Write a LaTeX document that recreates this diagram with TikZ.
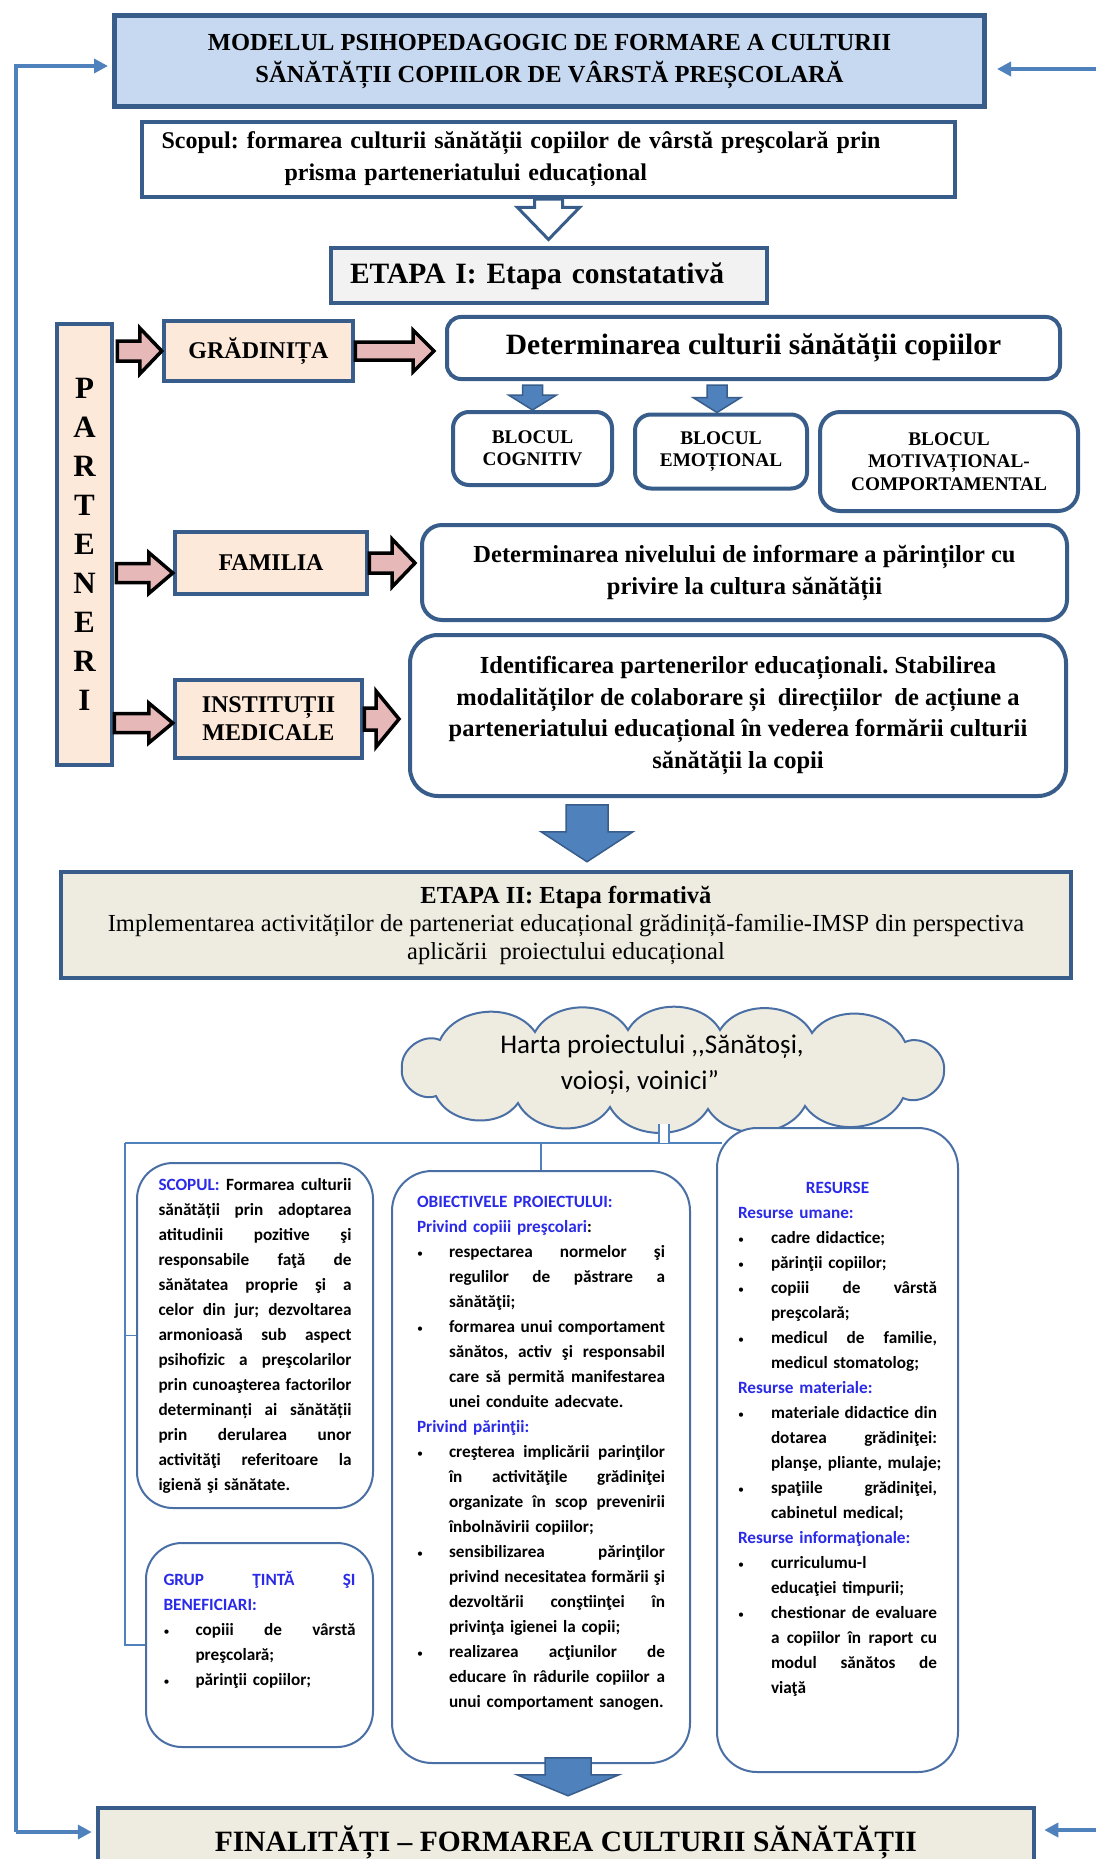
\documentclass[tikz,border=0pt]{standalone}
\usepackage{fontspec}
\setmainfont{Liberation Serif}
\newfontfamily\calfont{Carlito}
\usepackage{xcolor}
\usepackage{tikz}
\usetikzlibrary{arrows.meta,calc}
\definecolor{navyD}{HTML}{385D8A}
\definecolor{titleB}{HTML}{C6D9F1}
\definecolor{grayL}{HTML}{F2F2F2}
\definecolor{peachL}{HTML}{FDE9D9}
\definecolor{pinkA}{HTML}{E6B9B8}
\definecolor{beigeL}{HTML}{EEECE1}
\definecolor{medB}{HTML}{4F81BD}
\definecolor{steelB}{HTML}{4A6FA5}
\definecolor{hdblue}{HTML}{2A2AE8}
\frenchspacing
\newcommand{\fs}[2]{\fontsize{#1}{#2}\selectfont}
\newcommand{\hd}[1]{\textcolor{hdblue}{#1}}
\newlength{\bulind}
\newlength{\colw}
\newcommand{\stretchsp}{\spaceskip=0.23em plus 1em minus 0.06em\relax}
\newcommand{\bul}{\makebox[\bulind][l]{\fs{12}{12}\mdseries•}}
\newcommand{\jline}[1]{\leavevmode\hbox to \colw{\stretchsp #1}\\}
\newcommand{\bjline}[1]{\leavevmode\bul\hbox to \dimexpr\colw-\bulind\relax{\stretchsp #1}\\}
\newcommand{\bline}[1]{\leavevmode\bul\mbox{#1}\\}
\newcommand{\ijline}[1]{\leavevmode\hspace*{\bulind}\hbox to \dimexpr\colw-\bulind\relax{\stretchsp #1}\\}
\newcommand{\iline}[1]{\leavevmode\hspace*{\bulind}\mbox{#1}\\}
% block arrows: style, from, to, stem half, head half, head length
\newcommand{\harr}[6]{\path[#1] let \p1=(#2), \p2=(#3) in
  (\x1,{\y1+#4}) -- ({\x2-#6},{\y1+#4}) -- ({\x2-#6},{\y1+#5}) -- (\x2,\y1)
  -- ({\x2-#6},{\y1-#5}) -- ({\x2-#6},{\y1-#4}) -- (\x1,{\y1-#4}) -- cycle;}
\newcommand{\varr}[6]{\path[#1] let \p1=(#2), \p2=(#3) in
  ({\x1-#4},\y1) -- ({\x1-#4},{\y2+#6}) -- ({\x1-#5},{\y2+#6}) -- (\x1,\y2)
  -- ({\x1+#5},{\y2+#6}) -- ({\x1+#4},{\y2+#6}) -- ({\x1+#4},\y1) -- cycle;}

\begin{document}
\begin{tikzpicture}[x=1pt,y=-1pt,>={Triangle[length=14pt,width=14pt]},
  hdrbox/.style={draw=navyD,line width=4.5pt,inner sep=0pt,font=\bfseries},
  partbox/.style={hdrbox,fill=peachL,align=center,font=\bfseries\fs{24}{28}},
  rbox/.style={draw=navyD,line width=4pt,rounded corners=14pt,fill=white,inner sep=0pt,align=center},
  lowbox/.style={draw=steelB,line width=2pt,rounded corners=36pt,fill=white,inner sep=0pt},
  bodytxt/.style={font=\calfont\bfseries\fs{17.2}{25},align=left,inner sep=0pt,anchor=north},
  blocktxt/.style={font=\bfseries\fs{19.3}{22.5}},
  pinkarrow/.style={draw=black,line width=3.5pt,fill=pinkA},
  bluearrow/.style={draw=navyD,line width=1.5pt,fill=medB},
  hollowarrow/.style={draw=navyD,line width=3pt,fill=white},
  conn/.style={draw=medB,line width=1.8pt},
  fbline/.style={draw=medB,line width=4pt,->}]
\useasboundingbox (0,0) rectangle (1096,1859);

% stage I
\node[hdrbox,fill=titleB,line width=5pt,minimum width=870pt,minimum height=91pt,align=center,font=\bfseries\fs{24.5}{32}] (title) at (549.5,61.5)
  {MODELUL PSIHOPEDAGOGIC DE FORMARE A CULTURII\\SĂNĂTĂȚII COPIILOR DE VÂRSTĂ PREȘCOLARĂ};
\node[hdrbox,fill=white,minimum width=813pt,minimum height=75pt,text width=774pt,align=left,font=\bfseries\fs{24}{32}] (scopul) at (548.5,159.5)
  {Scopul: formarea culturii sănătății copiilor de vârstă preşcolară prin\\\hspace*{123pt}prisma parteneriatului educațional};
\node[hdrbox,fill=grayL,line width=4pt,minimum width=436pt,minimum height=55pt,text width=398pt,align=left,font=\bfseries\fs{29.5}{34}] (etapa1) at (549,276)
  {ETAPA I: Etapa constatativă};

\node[partbox,minimum width=55pt,minimum height=441pt,font=\bfseries\fs{31}{39}] (parteneri) at (84.5,544.5) {P\\A\\R\\T\\E\\N\\E\\R\\I};
\node[partbox,minimum width=189pt,minimum height=60pt] (gradinita) at (258.5,351) {GRĂDINIȚA};
\node[partbox,minimum width=192pt,minimum height=62pt] (familia) at (271,563) {FAMILIA};
\node[partbox,minimum width=187pt,minimum height=78pt] (institutii) at (268.5,719) {INSTITUȚII\\MEDICALE};

\node[rbox,minimum width=613pt,minimum height=62pt,font=\bfseries\fs{29.5}{34}] (determ1) at (753.5,348) {Determinarea culturii sănătății copiilor};
\node[rbox,blocktxt,rounded corners=16pt,minimum width=159pt,minimum height=73pt] (cognitiv) at (532.5,448.5) {BLOCUL\\COGNITIV};
\node[rbox,blocktxt,rounded corners=16pt,minimum width=172pt,minimum height=74pt] (emotional) at (721,451.5) {BLOCUL\\EMOȚIONAL};
\node[rbox,blocktxt,rounded corners=20pt,minimum width=258pt,minimum height=99pt] (motivational) at (949,461.5) {BLOCUL\\MOTIVAȚIONAL-\\COMPORTAMENTAL};
\node[rbox,rounded corners=20pt,minimum width=645pt,minimum height=95pt,font=\bfseries\fs{24.5}{32}] (determ2) at (744.5,572.5)
  {Determinarea nivelului de informare a părinților cu\\privire la cultura sănătății};
\node[rbox,rounded corners=28pt,minimum width=656pt,minimum height=161pt,font=\bfseries\fs{24.5}{31.7}] (identif) at (738,715.5)
  {Identificarea partenerilor educaționali. Stabilirea\\modalităților de colaborare și~ direcțiilor~ de acțiune a\\parteneriatului educațional în vederea formării culturii\\sănătății la copii};

% stage II
\node[hdrbox,fill=beigeL,minimum width=1010pt,minimum height=106pt,align=center,font=\fs{24.5}{28}] (etapa2) at (566,925)
  {\textbf{ETAPA II: Etapa formativă}\\Implementarea activităților de parteneriat educațional grădiniță-familie-IMSP din perspectiva\\aplicării~ proiectului educațional};

% project map cloud
\filldraw[draw=steelB,line width=2pt,fill=beigeL,bend left=60]
  (402,1068) to (440,1040) to (535,1032) to (628,1030) to (720,1030) to (812,1033)
  to (905,1042) to (944,1070) to (903,1098) to (805,1106) to (708,1109)
  to (610,1107) to (518,1103) to (436,1096) to (402,1068);
\coordinate (cloudBot) at (664,1124);
\node[align=center,inner sep=0pt,font=\calfont\fs{27}{36}] (cloudText) at (652,1065)
  {Harta proiectului ,,Sănătoși,\\voioși, voinici”\hspace*{24pt}};

\node[lowbox,minimum width=236pt,minimum height=345pt,text width=193pt,align=left,font=\calfont\bfseries\fs{17.2}{25}] (scopbox) at (255,1335.5) {\setlength{\colw}{193pt}%
\jline{\strut\hd{SCOPUL:} Formarea culturii}
\jline{sănătății prin adoptarea}
\jline{atitudinii pozitive şi}
\jline{responsabile faţă de}
\jline{sănătatea proprie şi a}
\jline{celor din jur; dezvoltarea}
\jline{armonioasă sub aspect}
\jline{psihofizic a preşcolarilor}
\jline{prin cunoaşterea factorilor}
\jline{determinanți ai sănătății}
\jline{prin derularea unor}
\jline{activităţi referitoare la}
igienă şi sănătate.\strut};

\node[lowbox,minimum width=227pt,minimum height=204pt] (grup) at (259.5,1645) {};
\node[bodytxt,text width=192pt] (grupText) at ($(grup.north)+(0,25.5)$) {\setlength{\bulind}{32pt}\setlength{\colw}{192pt}%
\jline{\strut\hd{GRUP ŢINTĂ ŞI}}
\hd{BENEFICIARI:}\\
\bjline{copiii de vârstă}
\iline{preşcolară;}
\bul părinţii copiilor;};

\node[lowbox,rounded corners=40pt,minimum width=298pt,minimum height=592pt] (objbox) at (541,1467) {};
\node[bodytxt,text width=248pt] (objText) at ($(objbox.north)+(0,19.5)$) {\setlength{\bulind}{32pt}\setlength{\colw}{248pt}%
\strut\hd{OBIECTIVELE PROIECTULUI:}\\
\hd{Privind copiii preşcolari}:\\
\bjline{respectarea normelor şi}
\ijline{regulilor de păstrare a}
\iline{sănătăţii;}
\bjline{formarea unui comportament}
\ijline{sănătos, activ şi responsabil}
\ijline{care să permită manifestarea}
\iline{unei conduite adecvate.}
\hd{Privind părinţii:}\\
\bjline{creşterea implicării parinţilor}
\ijline{în activităţile grădiniţei}
\ijline{organizate în scop prevenirii}
\iline{înbolnăvirii copiilor;}
\bjline{sensibilizarea părinţilor}
\ijline{privind necesitatea formării şi}
\ijline{dezvoltării conştiinţei în}
\iline{privinţa igienei la copii;}
\bjline{realizarea acţiunilor de}
\ijline{educare în râdurile copiilor a}
\hspace*{\bulind}unui comportament sanogen.};

\node[lowbox,rounded corners=40pt,minimum width=241pt,minimum height=644pt] (resbox) at (837.5,1450) {};
\node[bodytxt,text width=199pt] (resText) at ($(resbox.north)+(0,48.5)$) {\setlength{\bulind}{33pt}\setlength{\colw}{199pt}%
\strut\makebox[\colw][c]{\hd{RESURSE}}\\
\hd{Resurse umane:}\\
\bline{cadre didactice;}
\bline{părinţii copiilor;}
\bjline{copiii de vârstă}
\iline{preşcolară;}
\bjline{medicul de familie,}
\iline{medicul stomatolog;}
\hd{Resurse materiale:}\\
\bjline{materiale didactice din}
\ijline{dotarea grădiniţei:}
\iline{planşe, pliante, mulaje;}
\bjline{spaţiile grădiniţei,}
\iline{cabinetul medical;}
\hd{Resurse informaţionale:}\\
\bline{curriculumu-l}
\iline{educaţiei timpurii;}
\bjline{chestionar de evaluare}
\ijline{a copiilor în raport cu}
\ijline{modul sănătos de}
\hspace*{\bulind}viaţă};

\node[hdrbox,fill=beigeL,minimum width=936pt,minimum height=68pt,font=\bfseries\fs{29.5}{34}] (finalbox) at (566,1842)
  {FINALITĂȚI – FORMAREA CULTURII SĂNĂTĂȚII};

% project map connectors
\coordinate (hubL) at (125,1143);
\draw[conn] (hubL) -- ($(resbox.west |- hubL)+(6,0)$);
\draw[conn,double=white,double distance=8pt,line width=1.6pt] (cloudBot) -- (cloudBot |- hubL);
\draw[conn] (objbox.north |- hubL) -- (objbox.north);
\draw[conn] (hubL) |- (grup.west);
\draw[conn] (hubL |- scopbox.west) -- (scopbox.west);

% block arrows
\varr{hollowarrow}{scopul.south}{$(etapa1.north)+(0,-7)$}{14pt}{31pt}{32pt}
\harr{pinkarrow}{$(parteneri.east |- gradinita.west)+(3,0)$}{gradinita.west}{10pt}{23pt}{22pt}
\harr{pinkarrow}{gradinita.east}{$(determ1.west)+(-11,0)$}{9pt}{21pt}{21pt}
\harr{pinkarrow}{$(parteneri.east |- familia.west)+(2,10)$}{familia.west}{9.5pt}{20.5pt}{24pt}
\harr{pinkarrow}{familia.east}{$(determ2.west)+(-5,0)$}{10pt}{24pt}{23pt}
\harr{pinkarrow}{$(parteneri.east |- institutii.west)+(0,4)$}{institutii.west}{9.5pt}{20pt}{24pt}
\harr{pinkarrow}{institutii.east}{$(identif.west)+(-9,0)$}{11pt}{28pt}{23pt}
\varr{bluearrow}{$(cognitiv.north |- determ1.south)+(0,4)$}{cognitiv.north}{10pt}{24pt}{15pt}
\varr{bluearrow}{$(emotional.north |- determ1.south)+(-4,4)$}{$(emotional.north)+(-4,0)$}{10pt}{24pt}{15pt}
\varr{bluearrow}{$(etapa2.north)+(21,-65)$}{$(etapa2.north)+(21,-8)$}{21pt}{46pt}{30pt}
\varr{bluearrow}{$(finalbox.north)+(2,-48)$}{$(finalbox.north)+(2,-10)$}{23pt}{51pt}{21pt}

% feedback loop
\coordinate (fbTL) at (16,66);
\coordinate (fbBL) at (16,1832);
\coordinate (fbTR) at (1096,69);
\coordinate (fbBR) at (1096,1830);
\draw[fbline,shorten >=4pt] (fbBL) -- (fbTL) -- (fbTL -| title.west);
\draw[fbline,shorten >=4pt] (fbBL) -- (fbBL -| finalbox.west);
\draw[fbline,shorten >=10pt] (fbTR) -- (fbTR -| title.east);
\draw[fbline,shorten >=8pt] (fbBR) -- (fbBR -| finalbox.east);
\end{tikzpicture}
\end{document}
